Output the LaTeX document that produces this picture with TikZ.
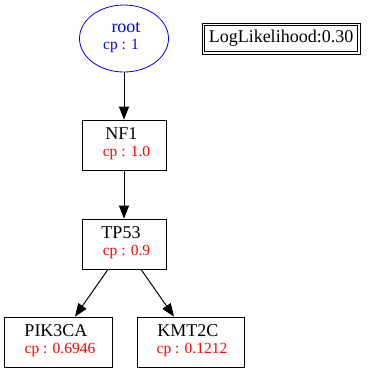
\documentclass[tikz,border=0pt]{standalone}
\usepackage{fontspec}
\setmainfont{Liberation Serif}
\usetikzlibrary{arrows.meta,shapes.geometric,positioning}
\tikzset{
  x=1pt, y=-1pt,
  txt/.style={font=\fontsize{18pt}{20pt}\selectfont, inner sep=0pt},
  small/.style={font=\fontsize{15.5pt}{17pt}\selectfont, inner sep=0pt},
  gene/.style={draw, line width=0.8pt, minimum width=84pt, minimum height=50pt, inner sep=0pt},
  rootnode/.style={draw=blue, ellipse, line width=0.8pt, minimum width=89pt, minimum height=67pt, inner sep=0pt},
  edge/.style={line width=1pt, -{Triangle[length=13pt,width=10pt]}},
  cpval/.style={small, text=red},
}
\begin{document}
\begin{tikzpicture}
\useasboundingbox (0,0) rectangle (376,373);
% root of the tree
\node[rootnode] (root) at (124,38.5) {};
\node[txt, text=blue] at (126,28) {root};
\node[small, text=blue] at (121,46.5) {cp : 1};
% score box with a double frame
\node[draw, line width=0.8pt, minimum width=158pt, minimum height=31pt, inner sep=0pt] (ll) at (281,38.5) {};
\draw[line width=0.8pt] ([xshift=3pt,yshift=3pt]ll.south west) rectangle ([xshift=-3pt,yshift=-3pt]ll.north east);
\node[txt] at (281,38.5) {LogLikelihood:0.30};
% gene nodes
\node[gene] (nf1) at (124,145) {};
\node[txt] at (121.5,134) {NF1};
\node[cpval] at (126.5,153) {cp : 1.0};
\node[gene] (tp53) at (124,244) {};
\node[txt] at (121,233) {TP53};
\node[cpval] at (126.5,252) {cp : 0.9};
\node[gene, minimum width=108pt] (pik) at (58,342) {};
\node[txt] at (56,331) {PIK3CA};
\node[cpval] at (60,350) {cp : 0.6946};
\node[gene, minimum width=107pt] (kmt) at (190.5,342) {};
\node[txt] at (188,331) {KMT2C};
\node[cpval] at (192,350) {cp : 0.1212};
% edges
\draw[edge] (root) -- (nf1);
\draw[edge] (nf1) -- (tp53);
\draw[edge] (tp53.south -| 108,0) -- (pik.north -| 75,0);
\draw[edge] (tp53.south -| 141,0) -- (kmt.north -| 174,0);
\end{tikzpicture}
\end{document}
